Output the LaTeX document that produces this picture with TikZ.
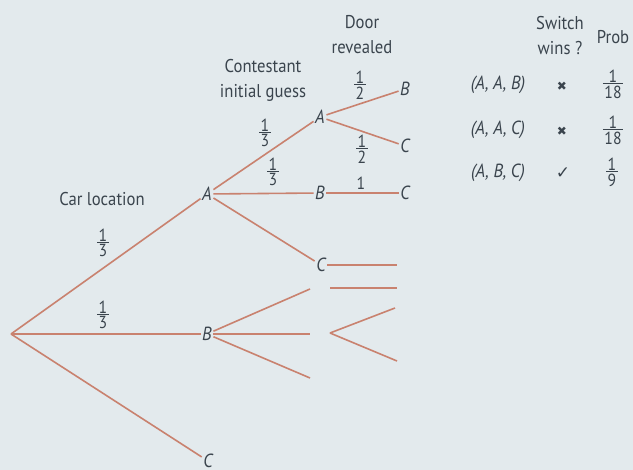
\documentclass[tikz,border=0pt]{standalone}
\usepackage{fontspec}
\setmainfont{PT Sans}[FakeStretch=0.9]
\newfontfamily\dejavu{DejaVu Sans}
\definecolor{bg}{HTML}{E3EAED}
\definecolor{brc}{HTML}{C9826F}
\definecolor{txt}{HTML}{3A444D}
\newcommand\fr[2]{\vbox{\halign{\hfil\kern1.5pt##\kern1.5pt\hfil\cr #1\cr\noalign{\kern1pt\hrule height 0.9pt\kern1.5pt} #2\cr}}}
\begin{document}
\begin{tikzpicture}[x=1pt,y=-1pt,
  lab/.style={inner sep=1.5pt, text=txt, font=\fontsize{19}{21}\selectfont\itshape},
  hd/.style={text=txt, font=\fontsize{18.5}{25}\selectfont, align=center, inner sep=0pt},
  row/.style={text=txt, font=\fontsize{19}{21}\selectfont\itshape, inner sep=0pt},
  frc/.style={text=txt, font=\fontsize{17.5}{17.5}\selectfont, inner sep=0pt},
  mk/.style={text=txt, inner sep=0pt},
  br/.style={draw=brc, line width=1.6pt}]
\fill[bg] (0,0) rectangle (633,470);
\useasboundingbox (0,0) rectangle (633,470);
% tree nodes
\coordinate (R) at (11,334);
\node[lab] (A) at (207,194) {A};
\node[lab] (B) at (207,334) {B};
\node[lab] (C) at (208,461) {C};
\node[lab] (AA) at (320,117) {A};
\node[lab] (AB) at (320,193) {B};
\node[lab] (AC) at (321,265) {C};
\node[lab] (AAB) at (405,89) {B};
\node[lab] (AAC) at (405,146) {C};
\node[lab] (ABC) at (405,193) {C};
% stub ends
\coordinate (B1) at (310,289);
\coordinate (B2) at (310,334);
\coordinate (B3) at (310,378);
\coordinate (ACe) at (397,265);
\coordinate (s1a) at (330,288);
\coordinate (s1b) at (397,288);
\coordinate (s2) at (330,333);
\coordinate (s2a) at (395,308);
\coordinate (s2b) at (397,361);
% branches
\draw[br] (R) -- (A);
\draw[br] (R) -- (B);
\draw[br] (R) -- (C);
\draw[br] (A) -- (AA);
\draw[br] (A) -- (AB);
\draw[br] (A) -- (AC);
\draw[br] (AA) -- (AAB);
\draw[br] (AA) -- (AAC);
\draw[br] (AB) -- (ABC);
\draw[br] (AC) -- (ACe);
\draw[br] (B) -- (B1);
\draw[br] (B) -- (B2);
\draw[br] (B) -- (B3);
\draw[br] (s1a) -- (s1b);
\draw[br] (s2) -- (s2a);
\draw[br] (s2) -- (s2b);
% headers
\node[hd] (h1) at (102,199) {Car location};
\node[hd] (h2) at (263,80) {Contestant\\initial guess};
\node[hd] (h3) at (362,35) {Door\\revealed};
\node[hd] (h4) at (560,36) {Switch\\wins ?};
\node[hd] (h5) at (613,37) {Prob};
% branch probabilities
\node[frc] (f1) at (103,243) {\fr{1}{3}};
\node[frc] (f2) at (103,315) {\fr{1}{3}};
\node[frc] (f3) at (265,133) {\fr{1}{3}};
\node[frc] (f4) at (273,172) {\fr{1}{3}};
\node[frc] (f5) at (360,85) {\fr{1}{2}};
\node[frc] (f6) at (362,149) {\fr{1}{2}};
\node[frc] (f7) at (361,183) {1};
% table
\node[row] (r1) at (498,85) {(A, A, B)};
\node[row] (r2) at (498,130) {(A, A, C)};
\node[row] (r3) at (498,173) {(A, B, C)};
\node[mk, font=\dejavu\fontsize{12}{12}\selectfont] (m1) at (562,86) {✖};
\node[mk, font=\dejavu\fontsize{12}{12}\selectfont] (m2) at (562,131) {✖};
\node[mk, font=\dejavu\fontsize{17}{17}\selectfont] (m3) at (563,173) {✓};
\node[frc] (p1) at (613,84) {\fr{1}{18}};
\node[frc] (p2) at (613,130) {\fr{1}{18}};
\node[frc] (p3) at (612,172) {\fr{1}{9}};
\end{tikzpicture}
\end{document}
